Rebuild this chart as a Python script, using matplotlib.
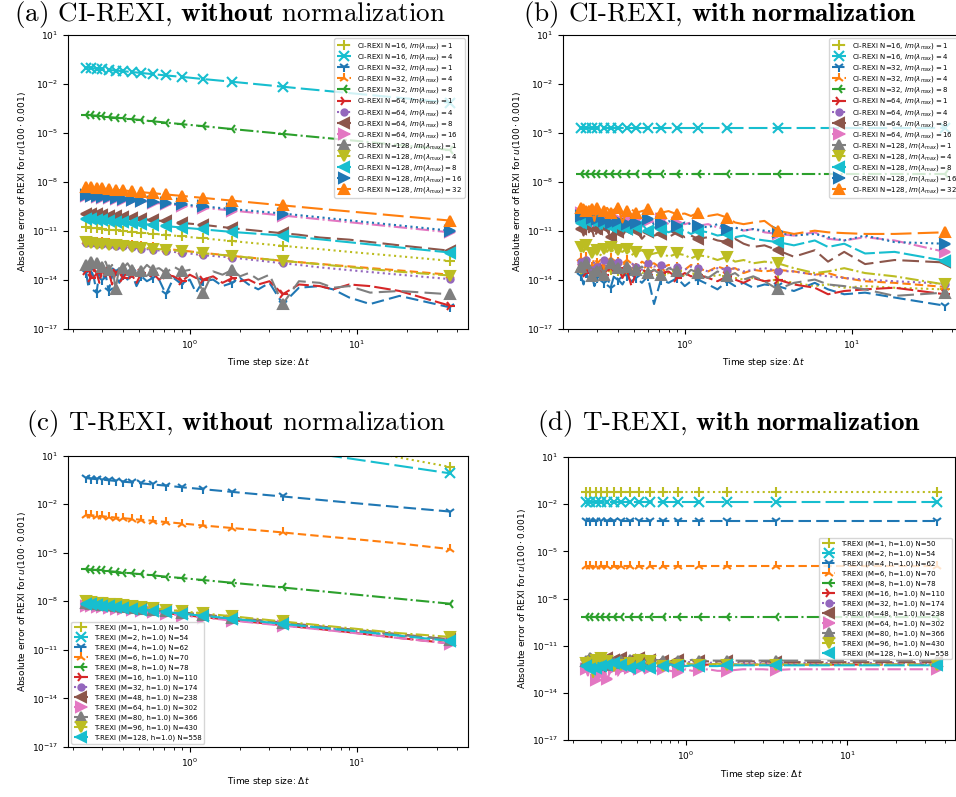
import numpy as np
import matplotlib.pyplot as plt

# time step sizes (sparse grid for smooth curves, dense grid for noisy curves)
dt_sparse = [0.24, 0.257, 0.277, 0.3, 0.327, 0.36, 0.4, 0.45, 0.514, 0.6, 0.72, 0.9, 1.2, 1.8, 3.6,
             4.5, 6.0, 9.0, 18.0, 36.0]
dt_dense = [0.24, 0.248, 0.257, 0.267, 0.277, 0.288, 0.3, 0.313, 0.327, 0.343, 0.36, 0.379, 0.4, 0.424,
            0.45, 0.48, 0.514, 0.554, 0.6, 0.655, 0.72, 0.8, 0.9, 1.0, 1.09, 1.2, 1.38, 1.57, 1.8, 2.0,
            2.25, 2.57, 3.0, 3.6, 4.5, 6.0, 7.2, 9.0, 12.0, 18.0, 36.0]
mark_sparse = list(range(15)) + [19]
mark_dense = [0, 2, 4, 6, 8, 10, 12, 14, 16, 18, 20, 22, 25, 28, 33, 40]

# errors, stored as log10 exponents
# (a) CI-REXI without normalization
a1 = [-10.8, -10.83, -10.86, -10.89, -10.93, -10.97, -11.01, -11.06, -11.12, -11.18, -11.26, -11.35, -11.47, -11.64, -11.93, -12.02, -12.13, -12.3, -12.57, -12.85]
a2 = [-1.0, -1.03, -1.06, -1.1, -1.14, -1.18, -1.22, -1.27, -1.33, -1.4, -1.48, -1.57, -1.7, -1.87, -2.17, -2.27, -2.39, -2.56, -2.85, -3.15]
a3 = [-13.6, -14.5, -13.4, -13.9, -14.8, -13.5, -14.0, -13.6, -14.7, -13.8, -13.5, -14.2, -13.7, -14.0, -13.6, -14.4, -13.8, -14.1, -13.9, -14.0, -14.9, -13.9, -14.3, -14.0, -14.8, -14.1, -14.0, -14.4, -14.2, -13.9, -14.3, -14.6, -14.2, -15.5, -14.5, -14.4, -14.6, -15.1, -15.5, -15.0, -15.7]
a4 = [-11.62, -11.65, -11.68, -11.72, -11.76, -11.8, -11.85, -11.9, -11.96, -12.03, -12.12, -12.22, -12.36, -12.55, -12.85, -12.93, -13.04, -13.19, -13.44, -13.7]
a5 = [-3.89, -3.92, -3.95, -3.99, -4.03, -4.07, -4.11, -4.16, -4.22, -4.29, -4.37, -4.47, -4.59, -4.77, -5.06, -5.16, -5.28, -5.45, -5.75, -6.05]
a6 = [-13.5, -13.3, -13.9, -13.4, -13.6, -14.2, -13.4, -13.8, -13.5, -14.3, -13.6, -13.4, -13.9, -13.5, -13.7, -14.2, -13.6, -13.8, -13.6, -14.0, -13.7, -13.8, -14.1, -13.7, -13.9, -14.0, -13.8, -14.2, -13.9, -14.1, -14.0, -14.3, -14.1, -14.9, -14.3, -14.4, -14.6, -14.3, -14.4, -14.7, -15.6]
a7 = [-11.75, -11.78, -11.8, -11.84, -11.88, -11.92, -11.97, -12.03, -12.1, -12.17, -12.26, -12.35, -12.5, -12.65, -13.0, -13.1, -13.25, -13.42, -13.7, -13.97]
a8 = [-9.95, -9.98, -10.0, -10.05, -10.07, -10.13, -10.16, -10.23, -10.27, -10.36, -10.42, -10.53, -10.64, -10.85, -11.16, -11.25, -11.42, -11.55, -11.9, -12.23]
a9 = [-8.87, -8.9, -8.93, -8.97, -9.01, -9.05, -9.09, -9.14, -9.21, -9.28, -9.36, -9.46, -9.59, -9.77, -10.07, -10.17, -10.3, -10.48, -10.79, -11.1]
a10 = [-13.1, -13.4, -12.9, -13.3, -13.0, -13.5, -13.2, -12.9, -13.4, -13.1, -14.6, -13.2, -13.3, -13.0, -13.4, -13.2, -13.5, -13.1, -13.4, -13.3, -13.6, -13.2, -13.5, -13.4, -13.6, -14.85, -13.5, -13.7, -13.4, -13.8, -13.6, -14.0, -13.7, -15.5, -14.1, -14.2, -14.5, -14.4, -14.8, -14.7, -14.9]
a11 = [-11.72, -11.75, -11.79, -11.83, -11.87, -11.9, -11.94, -11.98, -12.04, -12.1, -12.17, -12.25, -12.38, -12.55, -12.85, -12.94, -13.06, -13.23, -13.52, -13.75]
a12 = [-10.28, -10.31, -10.34, -10.37, -10.4, -10.44, -10.48, -10.53, -10.58, -10.65, -10.72, -10.81, -10.92, -11.08, -11.3, -11.4, -11.53, -11.71, -12.03, -12.34]
a13 = [-8.83, -8.86, -8.89, -8.92, -8.96, -9.0, -9.04, -9.09, -9.15, -9.22, -9.3, -9.39, -9.51, -9.68, -9.95, -10.05, -10.18, -10.37, -10.68, -11.0]
a14 = [-8.32, -8.35, -8.38, -8.41, -8.45, -8.49, -8.53, -8.58, -8.64, -8.7, -8.78, -8.87, -8.99, -9.16, -9.45, -9.54, -9.66, -9.82, -10.1, -10.38]

# (b) CI-REXI with normalization
b1 = [-13.4, -13.1, -13.6, -13.3, -13.5, -13.2, -13.7, -13.4, -13.3, -13.6, -13.4, -13.2, -13.5, -13.4, -13.7, -13.5, -13.3, -13.6, -13.5, -13.4, -13.7, -13.6, -13.5, -13.8, -13.6, -13.7, -13.9, -13.7, -13.8, -13.9, -14.0, -13.9, -14.1, -14.0, -14.2, -14.4, -14.3, -14.5, -14.4, -14.5, -14.6]
b2 = [-4.71] * 20
b3 = [-13.8, -14.3, -13.6, -14.0, -13.7, -14.4, -13.9, -13.6, -14.2, -13.8, -14.5, -13.7, -14.0, -14.3, -13.8, -14.1, -13.9, -14.2, -13.8, -15.5, -14.0, -14.2, -13.9, -14.4, -14.1, -14.0, -14.3, -14.6, -14.1, -14.4, -14.2, -14.5, -14.3, -14.4, -14.7, -14.2, -14.6, -14.9, -14.8, -15.1, -15.6]
b4 = [-12.7, -13.1, -12.6, -12.9, -13.2, -12.7, -13.0, -12.8, -13.3, -12.9, -12.7, -13.1, -12.9, -13.2, -12.8, -13.0, -13.3, -12.9, -13.1, -13.0, -13.3, -13.1, -13.2, -13.4, -13.1, -13.3, -13.5, -13.2, -13.4, -13.3, -13.6, -13.4, -13.5, -13.4, -13.5, -13.7, -13.6, -13.9, -14.1, -14.2, -14.45]
b5 = [-7.53] * 20
b6 = [-13.3, -13.1, -13.6, -13.2, -13.8, -13.3, -13.5, -13.1, -13.7, -13.4, -13.2, -13.6, -13.3, -13.9, -13.4, -14.4, -13.5, -13.3, -13.7, -13.4, -13.6, -13.5, -13.9, -13.6, -13.8, -13.7, -13.9, -14.1, -13.8, -14.0, -14.2, -13.9, -14.1, -14.0, -14.3, -14.5, -14.9, -14.7, -14.6, -14.5, -14.9]
b7 = [-12.9, -13.3, -12.8, -13.1, -13.4, -12.9, -13.2, -13.0, -12.8, -13.3, -13.0, -13.2, -12.9, -13.1, -13.3, -13.0, -13.2, -13.4, -13.0, -13.2, -13.1, -13.3, -13.2, -13.4, -13.2, -13.3, -13.5, -13.3, -13.4, -13.3, -13.5, -13.4, -13.3, -13.47, -13.5, -13.7, -13.8, -13.9, -14.0, -14.1, -14.25]
b8 = [-10.9, -11.3, -10.7, -11.1, -10.8, -11.5, -10.9, -11.2, -10.8, -11.0, -11.4, -10.9, -11.1, -11.3, -10.9, -11.2, -11.0, -11.5, -11.1, -11.3, -11.2, -11.4, -11.1, -11.4, -11.3, -11.5, -11.4, -11.6, -11.7, -11.5, -11.8, -12.0, -11.9, -12.2, -12.6, -12.2, -12.9, -12.3, -13.05, -12.8, -12.95]
b9 = [-9.9, -10.2, -9.95, -10.3, -10.0, -10.2, -10.4, -10.1, -10.3, -10.0, -10.4, -10.2, -10.3, -10.5, -10.2, -10.4, -10.3, -10.6, -10.4, -10.5, -10.3, -10.6, -10.5, -10.6, -10.5, -10.7, -10.6, -10.8, -10.9, -10.8, -11.0, -10.9, -11.1, -11.2, -11.3, -11.1, -11.5, -11.6, -11.4, -11.6, -12.3]
b10 = [-13.2, -13.6, -13.0, -13.4, -13.8, -13.1, -13.5, -13.2, -13.7, -13.3, -13.0, -13.6, -13.3, -13.5, -13.2, -13.7, -13.4, -13.2, -13.6, -13.4, -13.7, -13.3, -13.5, -13.8, -13.4, -13.6, -13.9, -13.5, -13.8, -13.6, -14.0, -13.8, -14.1, -14.6, -14.2, -14.0, -14.3, -14.4, -14.6, -15.0, -14.8]
b11 = [-12.0, -12.3, -11.9, -12.2, -12.4, -12.0, -12.2, -12.5, -12.1, -12.3, -12.0, -12.4, -12.2, -12.3, -12.1, -12.5, -12.3, -12.2, -12.5, -12.4, -12.3, -12.6, -12.4, -12.5, -12.7, -12.5, -12.6, -12.8, -12.6, -12.9, -12.8, -13.0, -12.9, -13.0, -13.3, -13.6, -13.5, -13.3, -13.6, -13.8, -14.3]
b12 = [-10.5, -10.8, -10.4, -10.6, -10.3, -10.7, -10.5, -10.9, -10.6, -10.4, -10.8, -10.6, -10.7, -10.5, -10.9, -10.7, -10.8, -10.6, -11.0, -10.8, -10.9, -11.1, -10.9, -11.0, -11.2, -11.0, -11.1, -11.3, -11.2, -11.4, -11.3, -11.5, -11.6, -11.7, -11.9, -11.6, -12.0, -11.8, -12.4, -12.3, -12.85]
b13 = [-10.1, -10.3, -10.0, -10.4, -10.2, -10.0, -10.3, -10.1, -10.4, -10.2, -10.5, -10.2, -10.4, -10.3, -10.6, -10.3, -10.5, -10.4, -10.3, -10.6, -10.5, -10.4, -10.7, -10.5, -10.6, -10.7, -10.8, -10.6, -10.9, -10.8, -11.0, -10.9, -11.0, -11.1, -11.3, -11.2, -11.4, -11.6, -11.3, -11.7, -11.8]
b14 = [-9.6, -9.4, -9.8, -9.5, -9.7, -10.4, -9.6, -9.5, -9.8, -9.6, -9.9, -9.7, -9.6, -10.5, -9.8, -9.7, -9.9, -9.8, -9.7, -10.0, -9.9, -9.8, -10.0, -9.95, -10.1, -9.9, -10.1, -10.0, -10.2, -10.5, -10.6, -10.5, -10.4, -11.0, -11.2, -11.0, -11.1, -11.15, -11.2, -11.2, -11.1]

# (c) T-REXI without normalization
c1 = [4.5, 4.45, 4.4, 4.35, 4.3, 4.2, 4.1, 4.0, 3.9, 3.75, 3.6, 3.4, 3.15, 2.8, 2.2, 2.0, 1.77, 1.44, 0.87, 0.3]
c2 = [3.17, 3.12, 3.07, 3.02, 2.96, 2.9, 2.83, 2.76, 2.67, 2.57, 2.45, 2.3, 2.12, 1.85, 1.4, 1.26, 1.07, 0.82, 0.36, -0.1]
c3 = [-0.4, -0.43, -0.46, -0.49, -0.53, -0.57, -0.62, -0.66, -0.72, -0.79, -0.86, -0.96, -1.08, -1.25, -1.53, -1.62, -1.74, -1.91, -2.19, -2.46]
c4 = [-2.66, -2.69, -2.72, -2.75, -2.79, -2.83, -2.87, -2.92, -2.97, -3.03, -3.11, -3.2, -3.32, -3.48, -3.75, -3.85, -3.97, -4.13, -4.43, -4.78]
c5 = [-6.01, -6.04, -6.07, -6.1, -6.14, -6.18, -6.23, -6.28, -6.33, -6.4, -6.48, -6.57, -6.69, -6.86, -7.15, -7.25, -7.37, -7.55, -7.85, -8.15]
c6 = [-8.2, -8.24, -8.28, -8.32, -8.36, -8.41, -8.46, -8.51, -8.57, -8.64, -8.73, -8.84, -8.98, -9.16, -9.48, -9.59, -9.72, -9.91, -10.27, -10.6]
c7 = [-8.13, -8.17, -8.2, -8.25, -8.29, -8.33, -8.38, -8.43, -8.49, -8.56, -8.64, -8.75, -8.88, -9.07, -9.38, -9.48, -9.61, -9.79, -10.11, -10.42]
c8 = [-8.07, -8.11, -8.15, -8.19, -8.23, -8.27, -8.32, -8.37, -8.43, -8.5, -8.58, -8.69, -8.82, -9.0, -9.32, -9.42, -9.55, -9.73, -10.04, -10.35]
c9 = [-8.28, -8.3, -8.33, -8.37, -8.41, -8.46, -8.5, -8.56, -8.62, -8.69, -8.77, -8.88, -9.01, -9.19, -9.51, -9.61, -9.74, -9.93, -10.28, -10.62]
c10 = [-8.1, -8.14, -8.17, -8.22, -8.26, -8.3, -8.35, -8.4, -8.46, -8.53, -8.61, -8.72, -8.85, -9.03, -9.35, -9.45, -9.58, -9.76, -10.07, -10.38]
c11 = [-8.0, -8.04, -8.08, -8.12, -8.16, -8.2, -8.25, -8.3, -8.36, -8.43, -8.51, -8.62, -8.75, -8.93, -9.25, -9.35, -9.48, -9.66, -9.97, -10.2]
c12 = [-8.15, -8.19, -8.22, -8.27, -8.31, -8.35, -8.4, -8.45, -8.51, -8.58, -8.66, -8.77, -8.9, -9.08, -9.4, -9.5, -9.63, -9.81, -10.13, -10.45]

# (d) T-REXI with normalization
d1 = [-1.21] * 20
d2 = [-1.84] * 20
d3 = [-3.07] * 20
d4 = [-5.93] * 20
d5 = [-9.16] * 20
d6 = [-12.3, -12.6, -12.0, -12.4, -12.2, -12.7, -12.1, -12.3, -12.5, -12.0, -12.3, -12.2, -12.5, -12.1, -12.4, -12.2, -12.3, -12.1, -12.4, -12.2, -12.3, -12.2, -12.1, -12.3, -12.2, -12.25, -12.2, -12.2, -12.25, -12.2, -12.2, -12.2, -12.2, -12.2, -12.2, -12.2, -12.2, -12.2, -12.2, -12.2, -12.2]
d7 = [-12.1, -11.9, -12.3, -12.0, -12.4, -12.1, -11.9, -12.2, -12.0, -12.3, -12.1, -12.2, -11.9, -12.2, -12.0, -12.3, -12.1, -12.0, -12.2, -12.1, -12.0, -12.2, -12.1, -12.1, -12.0, -12.1, -12.1, -12.05, -12.1, -12.05, -12.1, -12.1, -12.1, -12.1, -12.1, -12.1, -12.1, -12.1, -12.1, -12.1, -12.1]
d8 = [-11.9, -11.7, -12.1, -11.8, -12.0, -11.8, -12.2, -11.9, -11.8, -12.1, -11.9, -12.0, -11.8, -12.1, -11.9, -12.0, -11.8, -12.0, -11.9, -12.1, -11.95, -12.0, -11.9, -12.0, -12.0, -11.95, -12.0, -12.0, -12.0, -12.0, -12.0, -12.0, -12.0, -12.05, -12.05, -12.05, -12.05, -12.05, -12.05, -12.05, -12.05]
d9 = [-12.5, -12.9, -12.3, -12.7, -13.2, -12.4, -12.8, -12.5, -13.1, -12.6, -12.4, -12.9, -12.5, -12.7, -12.4, -12.8, -12.5, -12.7, -12.4, -12.6, -12.5, -12.6, -12.7, -12.5, -12.6, -12.55, -12.5, -12.6, -12.6, -12.55, -12.5, -12.5, -12.5, -12.55, -12.5, -12.5, -12.5, -12.5, -12.5, -12.5, -12.5]
d10 = [-12.0, -12.2, -11.8, -12.1, -11.9, -12.3, -12.0, -11.8, -12.2, -11.9, -12.1, -11.9, -12.0, -12.2, -11.9, -12.0, -12.1, -11.9, -12.0, -11.9, -12.0, -12.1, -11.95, -12.0, -11.9, -11.95, -11.95, -11.95, -11.95, -11.95, -11.95, -11.95, -11.95, -11.95, -11.95, -11.95, -11.95, -11.95, -11.95, -11.95, -11.95]
d11 = [-12.1, -11.7, -12.3, -13.0, -11.9, -12.2, -11.8, -12.4, -12.0, -11.8, -12.3, -12.0, -12.2, -11.9, -12.1, -12.3, -11.9, -12.2, -12.0, -12.1, -12.3, -12.0, -12.2, -12.1, -12.2, -12.2, -12.2, -12.15, -12.2, -12.2, -12.2, -12.2, -12.2, -12.2, -12.2, -12.2, -12.2, -12.2, -12.2, -12.2, -12.2]
d12 = [-12.3, -12.1, -12.5, -12.2, -12.4, -12.1, -12.3, -12.5, -12.2, -12.3, -12.1, -12.4, -12.2, -12.3, -12.4, -12.2, -12.3, -12.2, -12.4, -12.3, -12.3, -12.2, -12.3, -12.3, -12.25, -12.3, -12.3, -12.3, -12.25, -12.25, -12.25, -12.25, -12.25, -12.25, -12.25, -12.25, -12.25, -12.25, -12.25, -12.25, -12.25]

ci_labels = [r'CI-REXI N=16, $Im(\lambda_{max}) = 1$', r'CI-REXI N=16, $Im(\lambda_{max}) = 4$',
             r'CI-REXI N=32, $Im(\lambda_{max}) = 1$', r'CI-REXI N=32, $Im(\lambda_{max}) = 4$',
             r'CI-REXI N=32, $Im(\lambda_{max}) = 8$', r'CI-REXI N=64, $Im(\lambda_{max}) = 1$',
             r'CI-REXI N=64, $Im(\lambda_{max}) = 4$', r'CI-REXI N=64, $Im(\lambda_{max}) = 8$',
             r'CI-REXI N=64, $Im(\lambda_{max}) = 16$', r'CI-REXI N=128, $Im(\lambda_{max}) = 1$',
             r'CI-REXI N=128, $Im(\lambda_{max}) = 4$', r'CI-REXI N=128, $Im(\lambda_{max}) = 8$',
             r'CI-REXI N=128, $Im(\lambda_{max}) = 16$', r'CI-REXI N=128, $Im(\lambda_{max}) = 32$']
t_M = [1, 2, 4, 6, 8, 16, 32, 48, 64, 80, 96, 128]
t_N = [50, 54, 62, 70, 78, 110, 174, 238, 302, 366, 430, 558]
t_labels = ['T-REXI (M=%d, h=1.0) N=%d' % (m, n) for m, n in zip(t_M, t_N)]

colors = ['tab:olive', 'tab:cyan', 'tab:blue', 'tab:orange', 'tab:green', 'tab:red', 'tab:purple',
          'tab:brown', 'tab:pink', 'tab:gray', 'tab:olive', 'tab:cyan', 'tab:blue', 'tab:orange']
markers = ['+', 'x', '1', '2', '3', '4', 'o', '<', '>', '^', 'v', '<', '>', '^']
styles = [':', (0, (9, 2.5)), (0, (6, 2.5)), (0, (4, 2)), '-.', (0, (8, 2)), ':', (0, (8, 3)),
          '-.', (0, (8, 3)), '-.', (0, (10, 2)), ':', (0, (10, 3))]

plt.rcParams['font.size'] = 6.5
fig = plt.figure(figsize=(9.56, 7.97), dpi=100)
W, H = 956.0, 797.0


def panel(left, top, right, bottom, series, labels, loc, title, tx, ty, spacing):
    ax = fig.add_axes([left / W, 1 - bottom / H, (right - left) / W, (bottom - top) / H])
    for i, (vals, lab) in enumerate(zip(series, labels)):
        if len(vals) == len(dt_dense):
            x, me = dt_dense, mark_dense
        else:
            x, me = dt_sparse, mark_sparse
        if markers[i] == 'o':
            ms = 4.5
        elif markers[i] in '<>^v':
            ms = 6.5
        else:
            ms = 7.5
        ax.plot(x, 10.0 ** np.array(vals), color=colors[i], marker=markers[i], linestyle=styles[i],
                linewidth=1.5, markersize=ms, markeredgewidth=1.5, markevery=me, label=lab)
    ax.set_xscale('log')
    ax.set_yscale('log')
    ax.set_ylim(1e-17, 1e1)
    ax.set_yticks([1e1, 1e-2, 1e-5, 1e-8, 1e-11, 1e-14, 1e-17])
    ax.yaxis.set_minor_locator(plt.NullLocator())
    ax.set_xlabel(r'Time step size: $\Delta t$')
    ax.set_ylabel(r'Absolute error of REXI for $u(100\cdot0.001)$', labelpad=3)
    ax.legend(loc=loc, fontsize=5, labelspacing=spacing)
    fig.text(tx / W, 1 - ty / H, title, ha='center', va='center', fontsize=19.5, math_fontfamily='cm')
    return ax


panel(68, 35, 468, 328.5, [a1, a2, a3, a4, a5, a6, a7, a8, a9, a10, a11, a12, a13, a14], ci_labels,
      'upper right', r'$\text{(a) CI-REXI, }\mathbf{without}\text{ normalization}$', 230, 14.5, 0.15)
panel(563, 35, 963, 328.5, [b1, b2, b3, b4, b5, b6, b7, b8, b9, b10, b11, b12, b13, b14], ci_labels,
      'upper right', r'$\text{(b) CI-REXI, }\mathbf{with\ normalization}$', 720, 14.5, 0.15)
panel(68, 455.5, 468, 747, [c1, c2, c3, c4, c5, c6, c7, c8, c9, c10, c11, c12], t_labels,
      'lower left', r'$\text{(c) T-REXI, }\mathbf{without}\text{ normalization}$', 236, 424, 0.5)
panel(568, 457, 955, 740, [d1, d2, d3, d4, d5, d6, d7, d8, d9, d10, d11, d12], t_labels,
      'center right', r'$\text{(d) T-REXI, }\mathbf{with\ normalization}$', 729, 424, 0.5)

fig.savefig('out.png', dpi=100)
